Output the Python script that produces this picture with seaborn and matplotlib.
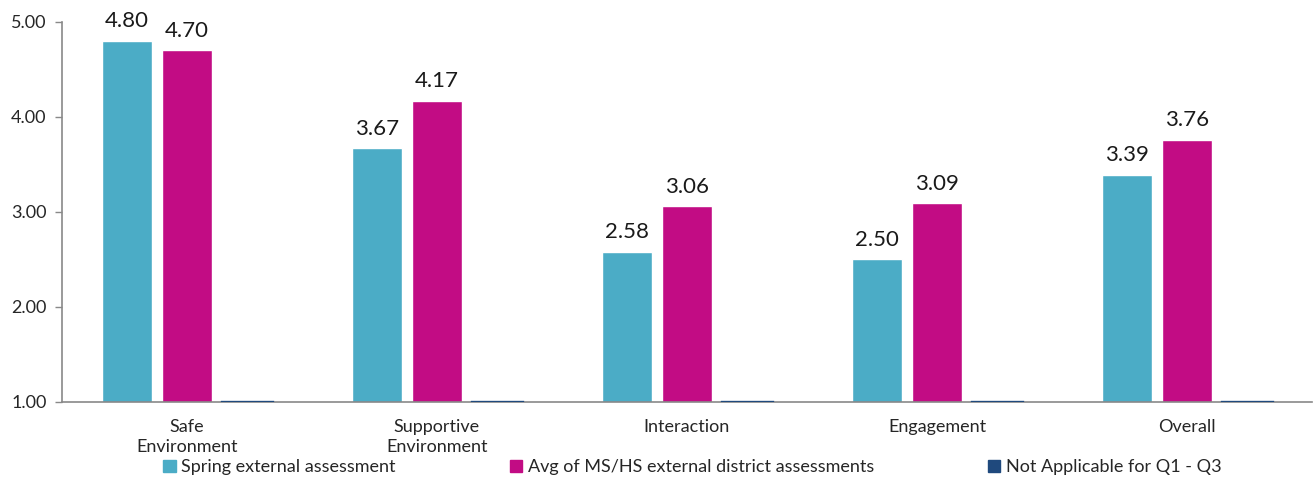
import pandas as pd
import matplotlib.pyplot as plt
import seaborn as sns

sns.set_theme(style="white")
plt.rcParams['font.family'] = ['Lato', 'DejaVu Sans']

categories = ['Safe\nEnvironment', 'Supportive\nEnvironment', 'Interaction', 'Engagement', 'Overall']
series = ['Spring external assessment',
          'Avg of MS/HS external district assessments',
          'Not Applicable for Q1 - Q3']
spring = [4.80, 3.67, 2.58, 2.50, 3.39]
avg_mshs = [4.70, 4.17, 3.06, 3.09, 3.76]
not_applicable = [1.0, 1.0, 1.0, 1.0, 1.0]
colors = ['#4BACC6', '#C20C84', '#1F497D']

df = pd.DataFrame({
    'Category': categories * 3,
    'Series': [series[0]] * 5 + [series[1]] * 5 + [series[2]] * 5,
    'Score': spring + avg_mshs + not_applicable,
})

fig = plt.figure(figsize=(13.16, 5.04), dpi=100)
ax = fig.add_axes([0.047, 0.2024, 0.95, 0.754])

sns.barplot(data=df, x='Category', y='Score', hue='Series', palette=colors,
            width=0.72, gap=0.167, ax=ax, errorbar=None, legend=False,
            saturation=1)

# outline makes the 1.00 "not applicable" bars show as a line at the axis
for bar in ax.containers[2]:
    bar.set_edgecolor(colors[2])
    bar.set_linewidth(2.4)
    bar.set_zorder(3)

for cont in ax.containers[:2]:
    ax.bar_label(cont, fmt='%.2f', padding=7, fontsize=16, color='#1a1a1a')

ax.set_ylim(1.0, 5.0)
ax.set_yticks([1, 2, 3, 4, 5])
ax.set_yticklabels([f'{v:.2f}' for v in [1, 2, 3, 4, 5]], fontsize=13)
ax.set_xlim(-0.5, 4.5)
ax.tick_params(axis='x', labelsize=13, length=0, pad=12)
for lbl in ax.get_xticklabels():
    lbl.set_linespacing(1.35)
ax.tick_params(axis='y', left=True, length=5, width=1, color='#898989', pad=6)
ax.set_xlabel('')
ax.set_ylabel('')
sns.despine(ax=ax, top=True, right=True)
for s in ['left', 'bottom']:
    ax.spines[s].set_color('#898989')
    ax.spines[s].set_linewidth(1.2)

handles = [plt.Rectangle((0, 0), 1, 1, color=c) for c in colors]
fig.legend(handles, series, loc='lower center', bbox_to_anchor=(0.526, 0.025),
           ncol=3, frameon=False, fontsize=13, handlelength=0.7,
           handleheight=0.7, handletextpad=0.3, columnspacing=6.3)

fig.savefig('out.png', dpi=100)
